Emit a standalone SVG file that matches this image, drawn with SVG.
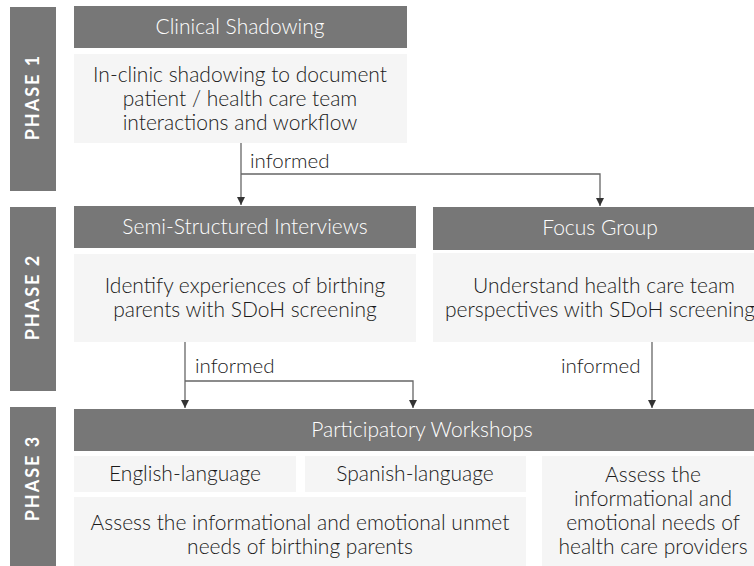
<svg xmlns="http://www.w3.org/2000/svg" width="754" height="566" viewBox="0 0 754 566">
  <style>
    .side { fill: #777777; }
    .head { fill: #777777; }
    .body { fill: #f5f5f5; }
    .sideTxt { font-family: Lato, "Open Sans", sans-serif; font-weight: 700; font-size: 18px; fill: #ffffff; letter-spacing: 2px; text-anchor: middle; }
    .headTxt { font-family: Lato, "Open Sans", sans-serif; font-weight: 300; font-size: 21px; fill: #ffffff; text-anchor: middle; }
    .bodyTxt { font-family: Lato, "Open Sans", sans-serif; font-weight: 300; font-size: 21px; fill: #1a1a1a; text-anchor: middle; }
    .lbl { font-family: Lato, "Open Sans", sans-serif; font-weight: 300; font-size: 20.5px; fill: #1a1a1a; }
    .conn { stroke: #666666; stroke-width: 1.3; fill: none; }
  </style>
  <defs>
    <marker id="arrow" viewBox="0 0 10 10" refX="10" refY="5" markerWidth="8" markerHeight="8" markerUnits="userSpaceOnUse" orient="auto">
      <path d="M0,0 L10,5 L0,10 Z" fill="#333333"/>
    </marker>
  </defs>
  <rect width="754" height="566" fill="#ffffff"/>

  <!-- phase labels -->
  <g id="phase1">
    <rect class="side" x="10" y="7" width="46" height="184"/>
    <text class="sideTxt" transform="translate(39,97) rotate(-90)">PHASE 1</text>
  </g>
  <g id="phase2">
    <rect class="side" x="10" y="207" width="46" height="184"/>
    <text class="sideTxt" transform="translate(39,297) rotate(-90)">PHASE 2</text>
  </g>
  <g id="phase3">
    <rect class="side" x="10" y="407" width="46" height="170"/>
    <text class="sideTxt" transform="translate(39,478) rotate(-90)">PHASE 3</text>
  </g>

  <!-- phase 1 -->
  <g id="clinical-shadowing">
    <rect class="head" x="74" y="6" width="333" height="42"/>
    <text class="headTxt" x="240" y="34">Clinical Shadowing</text>
    <rect class="body" x="74" y="54" width="333" height="89"/>
    <text class="bodyTxt" x="240" y="82">In-clinic shadowing to document</text>
    <text class="bodyTxt" x="240" y="106">patient / health care team</text>
    <text class="bodyTxt" x="240" y="130">interactions and workflow</text>
  </g>

  <!-- phase 2 -->
  <g id="interviews">
    <rect class="head" x="74" y="206" width="342" height="42"/>
    <text class="headTxt" x="245" y="234">Semi-Structured Interviews</text>
    <rect class="body" x="74" y="254" width="342" height="88"/>
    <text class="bodyTxt" x="245" y="293">Identify experiences of birthing</text>
    <text class="bodyTxt" x="245" y="317">parents with SDoH screening</text>
  </g>
  <g id="focus-group">
    <rect class="head" x="433" y="207" width="334" height="43"/>
    <text class="headTxt" x="600" y="235">Focus Group</text>
    <rect class="body" x="433" y="253" width="334" height="89"/>
    <text class="bodyTxt" x="604" y="293">Understand health care team</text>
    <text class="bodyTxt" x="600" y="317">perspectives with SDoH screening</text>
  </g>

  <!-- phase 3 -->
  <g id="workshops">
    <rect class="head" x="74" y="409" width="696" height="42"/>
    <text class="headTxt" x="422" y="437">Participatory Workshops</text>
  </g>
  <g id="english">
    <rect class="body" x="74" y="456" width="222" height="36"/>
    <text class="bodyTxt" x="185" y="481">English-language</text>
  </g>
  <g id="spanish">
    <rect class="body" x="305" y="456" width="221" height="36"/>
    <text class="bodyTxt" x="415" y="481">Spanish-language</text>
  </g>
  <g id="parents-needs">
    <rect class="body" x="74" y="497" width="452" height="69"/>
    <text class="bodyTxt" x="300" y="530">Assess the informational and emotional unmet</text>
    <text class="bodyTxt" x="300" y="554">needs of birthing parents</text>
  </g>
  <g id="provider-needs">
    <rect class="body" x="542" y="456" width="222" height="110"/>
    <text class="bodyTxt" x="653" y="482">Assess the</text>
    <text class="bodyTxt" x="653" y="506">informational and</text>
    <text class="bodyTxt" x="653" y="530">emotional needs of</text>
    <text class="bodyTxt" x="653" y="554">health care providers</text>
  </g>

  <!-- connectors -->
  <g id="connectors">
    <path class="conn" d="M241,143 V205" marker-end="url(#arrow)"/>
    <path class="conn" d="M241,174 H600 V206" marker-end="url(#arrow)"/>
    <path class="conn" d="M185,342 V408" marker-end="url(#arrow)"/>
    <path class="conn" d="M185,381 H413 V408" marker-end="url(#arrow)"/>
    <path class="conn" d="M652,342 V408" marker-end="url(#arrow)"/>
    <text class="lbl" x="250" y="168">informed</text>
    <text class="lbl" x="195" y="373">informed</text>
    <text class="lbl" x="561" y="373">informed</text>
  </g>
</svg>
